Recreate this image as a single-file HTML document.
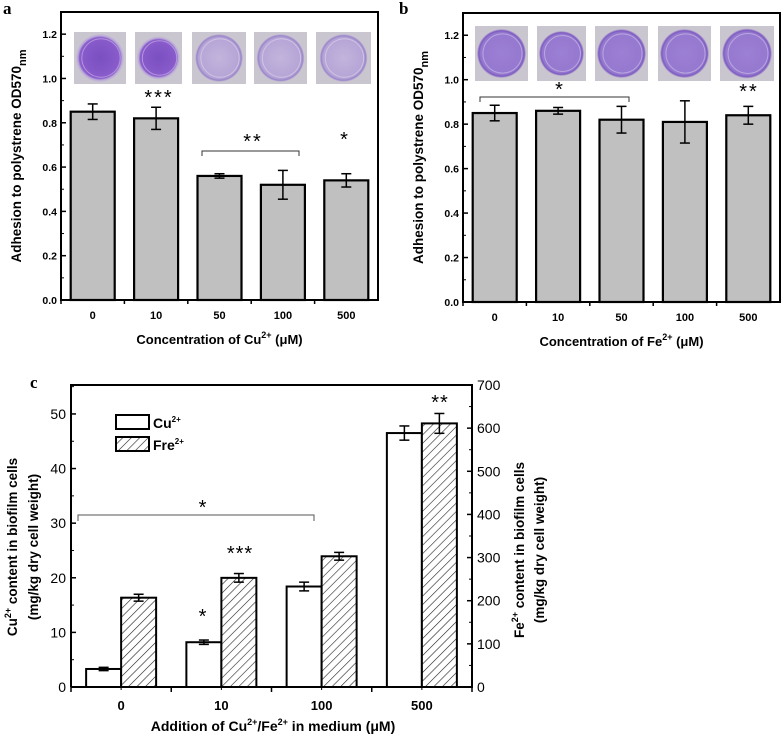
<!DOCTYPE html>
<html><head><meta charset="utf-8"><style>
html,body{margin:0;padding:0;background:#fff;overflow:hidden;}
svg{display:block;font-family:"Liberation Sans",Arial,sans-serif;}
</style></head><body>
<svg id="s" width="784" height="736" viewBox="0 0 784 736" xmlns="http://www.w3.org/2000/svg">
<defs>
<pattern id="hatch" patternUnits="userSpaceOnUse" width="6" height="6" patternTransform="rotate(45)">
<rect width="6" height="6" fill="#fff"/><line x1="0" y1="0" x2="0" y2="6" stroke="#222" stroke-width="1.2"/>
</pattern>
<radialGradient id="wellDark" cx="50%" cy="50%" r="50%"><stop offset="0" stop-color="#7a4fc0"/><stop offset="0.85" stop-color="#8a5ccc"/><stop offset="0.92" stop-color="#b8a8d8"/><stop offset="1" stop-color="#c8c0d4"/></radialGradient>
<radialGradient id="wellLight" cx="50%" cy="50%" r="50%"><stop offset="0" stop-color="#c2b4dc"/><stop offset="0.85" stop-color="#b5a4d6"/><stop offset="0.93" stop-color="#9a86c8"/><stop offset="1" stop-color="#cfc8d8"/></radialGradient>
<radialGradient id="wellMed" cx="50%" cy="50%" r="50%"><stop offset="0" stop-color="#9c80d4"/><stop offset="0.85" stop-color="#9578cf"/><stop offset="0.93" stop-color="#7d5cc0"/><stop offset="1" stop-color="#c8c0d4"/></radialGradient>
</defs>
<g id="gA"></g>
<g id="gB"></g>
<g id="gC"></g>
</svg>
<script>
const NS="http://www.w3.org/2000/svg";
// Panel a data
const catsA=["0","10","50","100","500"];
const valsA=[0.85,0.82,0.56,0.52,0.54];
const errA=[0.035,0.05,0.01,0.065,0.03];
const wellsA=["wellDark","wellDark","wellLight","wellLight","wellLight"];
// Panel b data
const catsB=["0","10","50","100","500"];
const valsB=[0.85,0.86,0.82,0.81,0.84];
const errB=[0.035,0.015,0.06,0.095,0.04];
const wellsB=["wellMed","wellMed","wellMed","wellMed","wellMed"];
const ticksAB=[0,0.2,0.4,0.6,0.8,1.0,1.2];
// Panel c data
const catsC=["0","10","100","500"];
const cuVals=[3.3,8.2,18.4,46.5];
const cuErr=[0.3,0.4,0.8,1.3];
const feVals=[207,253,303,611];
const feErr=[8,10,9,23];
const ticksCL=[0,10,20,30,40,50];
const ticksCR=[0,100,200,300,400,500,600,700];

function el(p,tag,attrs,txt){const e=document.createElementNS(NS,tag);for(const k in attrs)e.setAttribute(k,attrs[k]);if(txt!==undefined)e.textContent=txt;p.appendChild(e);return e;}

function panelAB(g,o){
  const L=o.L,R=o.R,T=o.T,B=o.B,ymax=1.3;
  const y=v=>B-(v/ymax)*(B-T);
  const n=o.cats.length,bw=(R-L)/n;
  const x=i=>L+bw*(i+0.5);
  const lab=el(g,'text',{x:o.lx,y:14,'font-family':'Liberation Serif,serif','font-weight':'bold','font-size':17},o.letter);
  
  
  o.wx.forEach((wx,i)=>{
    const w=el(g,'g',{});
    
    
    el(w,'rect',{x:wx[0],y:o.wy[0],width:wx[1]-wx[0],height:o.wy[1]-o.wy[0],fill:'#c9c6cf'});
    const cx=(wx[0]+wx[1])/2,cy=(o.wy[0]+o.wy[1])/2,r=Math.min(wx[1]-wx[0],o.wy[1]-o.wy[0])/2-2;
    el(w,'circle',{cx:cx,cy:cy,r:r,fill:'url(#'+o.wells[i]+')'});
    el(w,'circle',{cx:cx+1,cy:cy,r:r*0.8,fill:'none',stroke:'rgba(255,255,255,0.35)','stroke-width':1});
  });
  o.vals.forEach((v,i)=>{
    const b=el(g,'rect',{x:x(i)-22,y:y(v),width:44,height:B-y(v),fill:'#c0c0c0',stroke:'#000','stroke-width':2.2});
    
    
    const e=o.err[i],eg=el(g,'g',{stroke:'#000','stroke-width':1.5});
    
    
    el(eg,'line',{x1:x(i),x2:x(i),y1:y(v+e),y2:y(v-e)});
    el(eg,'line',{x1:x(i)-5,x2:x(i)+5,y1:y(v+e),y2:y(v+e)});
    el(eg,'line',{x1:x(i)-5,x2:x(i)+5,y1:y(v-e),y2:y(v-e)});
  });
  const fr=el(g,'rect',{x:L,y:T,width:R-L,height:B-T,fill:'none',stroke:'#000','stroke-width':2});
  
  
  ticksAB.forEach(t=>{
    el(g,'line',{x1:L,x2:L+5,y1:y(t),y2:y(t),stroke:'#000','stroke-width':1.5});
    el(g,'line',{x1:L,x2:L+3,y1:y(t+0.1),y2:y(t+0.1),stroke:'#000','stroke-width':1});
    const tl=el(g,'text',{x:L-4,y:y(t)+4,'text-anchor':'end','font-size':10.5,'font-weight':'bold'},t.toFixed(1));
    
    
  });
  o.cats.forEach((c,i)=>{
    el(g,'line',{x1:L+bw*i,x2:L+bw*i,y1:B,y2:B+4,stroke:'#000','stroke-width':1.5});
    const tl=el(g,'text',{x:x(i),y:B+19,'text-anchor':'middle','font-size':11,'font-weight':'bold'},c);
    
    
  });
  const xt=el(g,'text',{x:(L+R)/2,y:B+44,'text-anchor':'middle','font-size':13,'font-weight':'bold'});
  
  
  xt.innerHTML='Concentration of '+o.ion+'<tspan dy="-6" font-size="9">2+</tspan><tspan dy="6"> (μM)</tspan>';
  const yt=el(g,'text',{transform:'translate('+(L-40)+','+((T+B)/2)+') rotate(-90)','text-anchor':'middle','font-size':13.5,'font-weight':'bold'});
  
  
  yt.innerHTML='Adhesion to polystrene OD570<tspan dy="5" font-size="11">nm</tspan>';
  o.stars.forEach(s=>{const t=el(g,'text',{x:s[0],y:s[1]+12,'text-anchor':'middle','font-size':20,'letter-spacing':'2'},s[2]);
    
    });
  const br=el(g,'path',{d:`M${o.br[0]},${o.br[2]+5}V${o.br[2]}H${o.br[1]}V${o.br[2]+5}`,fill:'none',stroke:'#333','stroke-width':1});
  
  
}
panelAB(document.getElementById('gA'),{L:61,R:378,T:12,B:300,lx:3,letter:'a',cats:catsA,vals:valsA,err:errA,wells:wellsA,ion:'Cu',
  wx:[[74,126],[135,182],[192,246],[254,307],[316,371]],wy:[32,84],
  stars:[[159,92,'***'],[253,136,'**'],[345,134,'*']],br:[202,299,151]});
panelAB(document.getElementById('gB'),{L:463,R:780,T:13,B:302,lx:399,letter:'b',cats:catsB,vals:valsB,err:errB,wells:wellsB,ion:'Fe',
  wx:[[475,528],[537,586],[595,648],[658,711],[720,774]],wy:[26,81],
  stars:[[560,84,'*'],[749,86,'**']],br:[480,629,97]});

// Panel c
(function(){
  const g=document.getElementById('gC');
  const L=71,R=472,T=385,B=687,ymaxL=55.3,ymaxR=700;
  const yL=v=>B-v/ymaxL*(B-T), yR=v=>B-v/ymaxR*(B-T);
  const n=catsC.length,bw=(R-L)/n,x=i=>L+bw*(i+0.5);
  const lab=el(g,'text',{x:30,y:388,'font-family':'Liberation Serif,serif','font-weight':'bold','font-size':17},'c');
  
  
  function bar(i,top,fill,name){const b=el(g,'rect',{x:fill==='#fff'?x(i)-35:x(i),y:top,width:35,height:B-top,fill:fill,stroke:'#000','stroke-width':2});
    
    }
  function eb(cx,a,b,name){const eg=el(g,'g',{stroke:'#000','stroke-width':1.5});
    
    
    el(eg,'line',{x1:cx,x2:cx,y1:a,y2:b});el(eg,'line',{x1:cx-5,x2:cx+5,y1:a,y2:a});el(eg,'line',{x1:cx-5,x2:cx+5,y1:b,y2:b});}
  catsC.forEach((c,i)=>{
    bar(i,yL(cuVals[i]),'#fff','cu-bar-'+c);
    eb(x(i)-17.5,yL(cuVals[i]+cuErr[i]),yL(cuVals[i]-cuErr[i]),'cu-error-bar-'+c);
    bar(i,yR(feVals[i]),'url(#hatch)','fe-bar-'+c);
    eb(x(i)+17.5,yR(feVals[i]+feErr[i]),yR(feVals[i]-feErr[i]),'fe-error-bar-'+c);
  });
  const fr=el(g,'path',{d:`M${L},${B}V${T}H${R}V${B}H${L}`,fill:'none',stroke:'#000','stroke-width':2});
  
  
  ticksCL.forEach(t=>{
    el(g,'line',{x1:L,x2:L+5,y1:yL(t),y2:yL(t),stroke:'#000','stroke-width':1.5});
    el(g,'line',{x1:L,x2:L+3,y1:yL(t+5),y2:yL(t+5),stroke:'#000','stroke-width':1});
    const tl=el(g,'text',{x:L-5,y:yL(t)+5,'text-anchor':'end','font-size':14},t);
    
    
  });
  ticksCR.forEach(t=>{
    el(g,'line',{x1:R,x2:R-5,y1:yR(t),y2:yR(t),stroke:'#000','stroke-width':1.5});
    if(t<700)el(g,'line',{x1:R,x2:R-3,y1:yR(t+50),y2:yR(t+50),stroke:'#000','stroke-width':1});
    const tl=el(g,'text',{x:R+5,y:yR(t)+5,'font-size':14},t);
    
    
  });
  catsC.forEach((c,i)=>{
    el(g,'line',{x1:L+bw*i,x2:L+bw*i,y1:B,y2:B+5,stroke:'#000','stroke-width':1.5});
    el(g,'line',{x1:x(i),x2:x(i),y1:B,y2:B+3,stroke:'#000','stroke-width':1});
    const tl=el(g,'text',{x:x(i),y:B+23,'text-anchor':'middle','font-size':13,'font-weight':'bold'},c);
    
    
  });
  el(g,'line',{x1:R,x2:R,y1:B,y2:B+5,stroke:'#000','stroke-width':1.5});
  const xt=el(g,'text',{x:273,y:731,'text-anchor':'middle','font-size':14,'font-weight':'bold'});
  
  
  xt.innerHTML='Addition of Cu<tspan dy="-6" font-size="9">2+</tspan><tspan dy="6">/Fe</tspan><tspan dy="-6" font-size="9">2+</tspan><tspan dy="6"> in medium (μM)</tspan>';
  const yt=el(g,'text',{transform:'translate(17,547) rotate(-90)','text-anchor':'middle','font-size':13.5,'font-weight':'bold'});
  
  
  yt.innerHTML='Cu<tspan dy="-6" font-size="9">2+</tspan><tspan dy="6"> content in biofilm cells</tspan>';
  const yt2=el(g,'text',{transform:'translate(38,547) rotate(-90)','text-anchor':'middle','font-size':13.5,'font-weight':'bold'},'(mg/kg dry cell weight)');
  
  
  const rt=el(g,'text',{transform:'translate(524,550) rotate(-90)','text-anchor':'middle','font-size':13.5,'font-weight':'bold'});
  
  
  rt.innerHTML='Fe<tspan dy="-6" font-size="9">2+</tspan><tspan dy="6"> content in biofilm cells</tspan>';
  const rt2=el(g,'text',{transform:'translate(544,550) rotate(-90)','text-anchor':'middle','font-size':13.5,'font-weight':'bold'},'(mg/kg dry cell weight)');
  
  
  const lg=el(g,'g',{});
  
  
  el(lg,'rect',{x:116,y:415,width:33,height:14,fill:'#fff',stroke:'#000','stroke-width':2});
  el(lg,'rect',{x:116,y:437,width:33,height:14,fill:'url(#hatch)',stroke:'#000','stroke-width':2});
  const l1=el(lg,'text',{x:153,y:428,'font-size':14,'font-weight':'bold'});l1.innerHTML='Cu<tspan dy="-6" font-size="8">2+</tspan>';
  
  
  const l2=el(lg,'text',{x:153,y:450,'font-size':14,'font-weight':'bold'});l2.innerHTML='Fre<tspan dy="-6" font-size="8">2+</tspan>';
  
  
  const br=el(g,'path',{d:'M78,521V515H314V521',fill:'none',stroke:'#555','stroke-width':1});
  
  
  [[203,500,'*'],[240,546,'***'],[203,609,'*'],[440,395,'**']].forEach(s=>{
    const t=el(g,'text',{x:s[0],y:s[1]+14,'text-anchor':'middle','font-size':20,'letter-spacing':'1'},s[2]);
    
    
  });
})();
</script>
</body></html>
